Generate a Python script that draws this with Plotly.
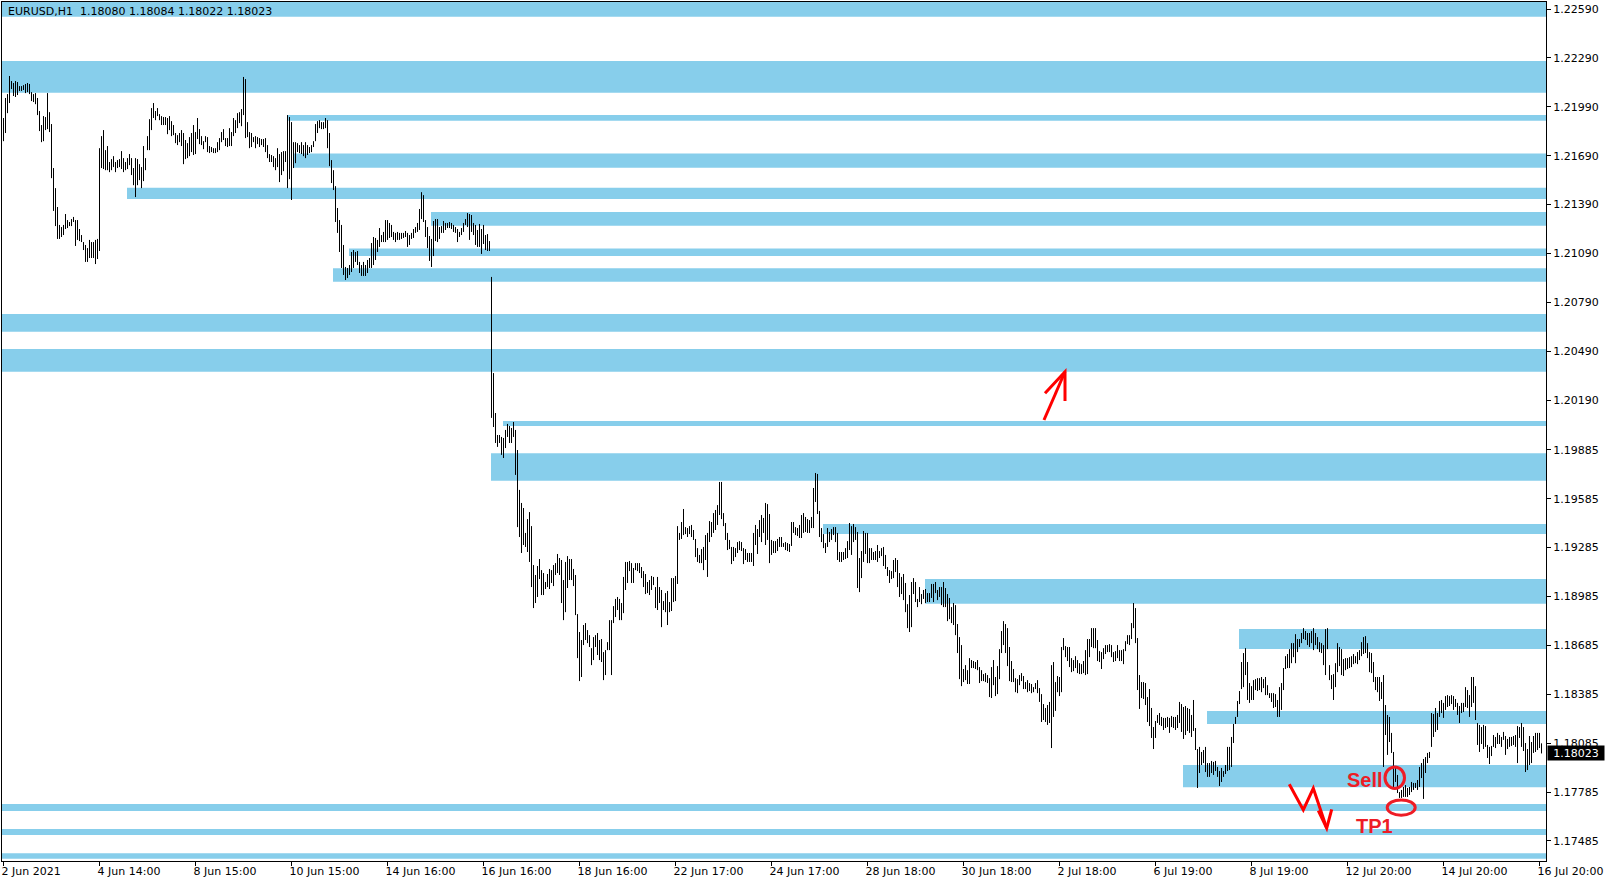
import plotly.graph_objects as go

# ---------------- data ----------------
symbol_header = "EURUSD,H1\u00a0\u00a01.18080 1.18084 1.18022 1.18023"
last_price = 1.18023

bar_high = [
    1.21921, 1.22044, 1.22068, 1.22179, 1.22148, 1.22136, 1.22148, 1.22142, 1.22117, 1.22117,
    1.22123, 1.22130, 1.22136, 1.22130, 1.22080, 1.22068, 1.22074, 1.22044, 1.21964, 1.21878,
    1.21933, 1.21927, 1.22074, 1.21957, 1.21884, 1.21614, 1.21491, 1.21375, 1.21265, 1.21252,
    1.21265, 1.21332, 1.21295, 1.21283, 1.21301, 1.21314, 1.21295, 1.21295, 1.21240, 1.21203,
    1.21160, 1.21142, 1.21123, 1.21173, 1.21160, 1.21160, 1.21173, 1.21179, 1.21736, 1.21810,
    1.21847, 1.21724, 1.21749, 1.21651, 1.21669, 1.21687, 1.21651, 1.21663, 1.21669, 1.21718,
    1.21675, 1.21651, 1.21675, 1.21700, 1.21675, 1.21614, 1.21675, 1.21669, 1.21638, 1.21620,
    1.21749, 1.21675, 1.21810, 1.21914, 1.21982, 1.22013, 1.21964, 1.21982, 1.21945, 1.21933,
    1.21927, 1.21927, 1.21921, 1.21933, 1.21902, 1.21878, 1.21829, 1.21816, 1.21829, 1.21847,
    1.21829, 1.21786, 1.21767, 1.21804, 1.21829, 1.21878, 1.21835, 1.21921, 1.21853, 1.21810,
    1.21779, 1.21810, 1.21804, 1.21749, 1.21743, 1.21736, 1.21736, 1.21773, 1.21798, 1.21835,
    1.21853, 1.21798, 1.21798, 1.21859, 1.21835, 1.21921, 1.21908, 1.21951, 1.21957, 1.21976,
    1.22173, 1.22160, 1.21896, 1.21835, 1.21829, 1.21804, 1.21810, 1.21804, 1.21798, 1.21792,
    1.21792, 1.21798, 1.21755, 1.21700, 1.21694, 1.21687, 1.21675, 1.21736, 1.21700, 1.21712,
    1.21718, 1.21718, 1.21939, 1.21927, 1.21896, 1.21773, 1.21773, 1.21767, 1.21755, 1.21773,
    1.21755, 1.21773, 1.21755, 1.21743, 1.21755, 1.21779, 1.21884, 1.21902, 1.21908, 1.21896,
    1.21896, 1.21921, 1.21908, 1.21829, 1.21663, 1.21601, 1.21503, 1.21369, 1.21295, 1.21265,
    1.21142, 1.21007, 1.21001, 1.21019, 1.21099, 1.21111, 1.21099, 1.21105, 1.21038, 1.21019,
    1.21038, 1.21019, 1.21050, 1.21062, 1.21154, 1.21191, 1.21185, 1.21173, 1.21246, 1.21203,
    1.21222, 1.21295, 1.21295, 1.21277, 1.21265, 1.21222, 1.21216, 1.21222, 1.21216, 1.21216,
    1.21216, 1.21228, 1.21216, 1.21203, 1.21216, 1.21240, 1.21252, 1.21277, 1.21363, 1.21466,
    1.21448, 1.21295, 1.21252, 1.21197, 1.21179, 1.21289, 1.21301, 1.21301, 1.21252, 1.21258,
    1.21289, 1.21277, 1.21277, 1.21283, 1.21277, 1.21265, 1.21252, 1.21240, 1.21222, 1.21246,
    1.21277, 1.21301, 1.21338, 1.21332, 1.21326, 1.21277, 1.21265, 1.21234, 1.21271, 1.21240,
    1.21265, 1.21203, 1.21209, 1.21166, 1.20946, 1.20356, 1.20111, 1.19976, 1.19976, 1.19964,
    1.19958, 1.20007, 1.20044, 1.20031, 1.20019, 1.20056, 1.20007, 1.19884, 1.19639, 1.19559,
    1.19528, 1.19375, 1.19460, 1.19503, 1.19417, 1.19178, 1.19117, 1.19172, 1.19215, 1.19147,
    1.19129, 1.19074, 1.19123, 1.19154, 1.19147, 1.19178, 1.19190, 1.19246, 1.19221, 1.19209,
    1.19086, 1.19197, 1.19233, 1.19215, 1.19215, 1.19154, 1.19117, 1.18877, 1.18767, 1.18718,
    1.18810, 1.18822, 1.18779, 1.18748, 1.18668, 1.18736, 1.18748, 1.18761, 1.18718, 1.18724,
    1.18644, 1.18656, 1.18705, 1.18840, 1.18840, 1.18926, 1.18970, 1.18982, 1.18970, 1.18945,
    1.19105, 1.19197, 1.19197, 1.19203, 1.19190, 1.19160, 1.19190, 1.19190, 1.19190, 1.19166,
    1.19141, 1.19123, 1.19074, 1.19086, 1.19111, 1.19105, 1.19043, 1.19105, 1.19043, 1.19025,
    1.18957, 1.19006, 1.19019, 1.18951, 1.19098, 1.19098, 1.19111, 1.19417, 1.19375, 1.19442,
    1.19522, 1.19411, 1.19405, 1.19417, 1.19424, 1.19393, 1.19338, 1.19282, 1.19240, 1.19276,
    1.19289, 1.19362, 1.19375, 1.19448, 1.19442, 1.19497, 1.19516, 1.19546, 1.19688, 1.19688,
    1.19497, 1.19436, 1.19375, 1.19332, 1.19289, 1.19289, 1.19282, 1.19319, 1.19325, 1.19319,
    1.19282, 1.19276, 1.19252, 1.19252, 1.19252, 1.19375, 1.19424, 1.19399, 1.19454, 1.19485,
    1.19467, 1.19559, 1.19552, 1.19491, 1.19332, 1.19325, 1.19325, 1.19338, 1.19350, 1.19350,
    1.19313, 1.19319, 1.19313, 1.19307, 1.19442, 1.19442, 1.19411, 1.19405, 1.19424, 1.19485,
    1.19497, 1.19473, 1.19460, 1.19454, 1.19473, 1.19651, 1.19743, 1.19737, 1.19510, 1.19405,
    1.19368, 1.19313, 1.19405, 1.19381, 1.19399, 1.19411, 1.19411, 1.19375, 1.19258, 1.19258,
    1.19258, 1.19282, 1.19325, 1.19436, 1.19417, 1.19430, 1.19411, 1.19381, 1.19221, 1.19264,
    1.19387, 1.19375, 1.19375, 1.19282, 1.19282, 1.19258, 1.19264, 1.19301, 1.19264, 1.19282,
    1.19289, 1.19240, 1.19166, 1.19147, 1.19141, 1.19209, 1.19221, 1.19209, 1.19129, 1.19105,
    1.19123, 1.19068, 1.18938, 1.18994, 1.19074, 1.19098, 1.19074, 1.18970, 1.19043, 1.19000,
    1.19025, 1.19031, 1.19006, 1.19006, 1.19062, 1.19062, 1.19074, 1.19025, 1.19043, 1.19043,
    1.19074, 1.19037, 1.19000, 1.18976, 1.18920, 1.18945, 1.18932, 1.18816, 1.18736, 1.18687,
    1.18540, 1.18564, 1.18533, 1.18607, 1.18595, 1.18589, 1.18583, 1.18595, 1.18552, 1.18533,
    1.18509, 1.18515, 1.18503, 1.18484, 1.18552, 1.18595, 1.18491, 1.18558, 1.18662, 1.18773,
    1.18834, 1.18816, 1.18791, 1.18675, 1.18589, 1.18540, 1.18484, 1.18478, 1.18503, 1.18515,
    1.18497, 1.18460, 1.18472, 1.18454, 1.18448, 1.18429, 1.18454, 1.18472, 1.18423, 1.18386,
    1.18325, 1.18301, 1.18319, 1.18338, 1.18564, 1.18583, 1.18460, 1.18497, 1.18491, 1.18675,
    1.18730, 1.18681, 1.18675, 1.18675, 1.18607, 1.18595, 1.18619, 1.18595, 1.18576, 1.18570,
    1.18589, 1.18656, 1.18724, 1.18724, 1.18791, 1.18791, 1.18791, 1.18718, 1.18650, 1.18644,
    1.18668, 1.18687, 1.18687, 1.18693, 1.18687, 1.18644, 1.18650, 1.18687, 1.18656, 1.18656,
    1.18662, 1.18711, 1.18748, 1.18748, 1.18822, 1.18945, 1.18914, 1.18730, 1.18503, 1.18460,
    1.18460, 1.18454, 1.18368, 1.18417, 1.18301, 1.18184, 1.18221, 1.18258, 1.18270, 1.18246,
    1.18240, 1.18240, 1.18246, 1.18240, 1.18252, 1.18246, 1.18246, 1.18258, 1.18338, 1.18325,
    1.18307, 1.18313, 1.18301, 1.18295, 1.18258, 1.18350, 1.18178, 1.18049, 1.18062, 1.18031,
    1.18043, 1.18062, 1.17963, 1.17963, 1.17976, 1.17970, 1.17976, 1.17939, 1.17914, 1.17933,
    1.17914, 1.17951, 1.18062, 1.18062, 1.18123, 1.18203, 1.18246, 1.18344, 1.18405, 1.18583,
    1.18638, 1.18668, 1.18583, 1.18454, 1.18435, 1.18472, 1.18478, 1.18484, 1.18484, 1.18491,
    1.18478, 1.18491, 1.18441, 1.18392, 1.18392, 1.18392, 1.18386, 1.18350, 1.18429, 1.18454,
    1.18546, 1.18619, 1.18632, 1.18662, 1.18699, 1.18699, 1.18754, 1.18724, 1.18724, 1.18761,
    1.18791, 1.18773, 1.18761, 1.18761, 1.18773, 1.18791, 1.18761, 1.18736, 1.18705, 1.18699,
    1.18687, 1.18785, 1.18791, 1.18564, 1.18503, 1.18509, 1.18576, 1.18699, 1.18675, 1.18662,
    1.18601, 1.18607, 1.18607, 1.18613, 1.18619, 1.18632, 1.18619, 1.18644, 1.18656, 1.18705,
    1.18736, 1.18742, 1.18699, 1.18644, 1.18638, 1.18583, 1.18491, 1.18491, 1.18491, 1.18460,
    1.18503, 1.18319, 1.18258, 1.18246, 1.18148, 1.18031, 1.17939, 1.17890, 1.17785, 1.17798,
    1.17816, 1.17828, 1.17810, 1.17816, 1.17847, 1.17841, 1.17841, 1.17859, 1.17939, 1.17963,
    1.17988, 1.18000, 1.18025, 1.18031, 1.18270, 1.18264, 1.18301, 1.18270, 1.18344, 1.18350,
    1.18332, 1.18374, 1.18380, 1.18374, 1.18380, 1.18374, 1.18356, 1.18332, 1.18313, 1.18332,
    1.18332, 1.18429, 1.18411, 1.18380, 1.18491, 1.18491, 1.18435, 1.18209, 1.18197, 1.18184,
    1.18197, 1.18190, 1.18074, 1.18062, 1.18068, 1.18135, 1.18123, 1.18148, 1.18135, 1.18123,
    1.18154, 1.18129, 1.18111, 1.18123, 1.18123, 1.18129, 1.18135, 1.18190, 1.18184, 1.18209,
    1.18184, 1.18086, 1.18049, 1.18129, 1.18092, 1.18129, 1.18148, 1.18148, 1.18148, 1.18084,
]

bar_low = [
    1.21779, 1.21829, 1.21951, 1.22013, 1.22099, 1.22056, 1.22050, 1.22062, 1.22087, 1.22087,
    1.22093, 1.22074, 1.22080, 1.22068, 1.22025, 1.22019, 1.22006, 1.21939, 1.21841, 1.21773,
    1.21779, 1.21847, 1.21853, 1.21835, 1.21552, 1.21351, 1.21258, 1.21179, 1.21179, 1.21191,
    1.21203, 1.21240, 1.21246, 1.21258, 1.21258, 1.21283, 1.21136, 1.21173, 1.21166, 1.21160,
    1.21111, 1.21038, 1.21038, 1.21062, 1.21062, 1.21062, 1.21025, 1.21056, 1.21105, 1.21614,
    1.21608, 1.21601, 1.21601, 1.21589, 1.21601, 1.21620, 1.21589, 1.21614, 1.21620, 1.21608,
    1.21589, 1.21601, 1.21608, 1.21632, 1.21571, 1.21509, 1.21436, 1.21509, 1.21540, 1.21491,
    1.21534, 1.21601, 1.21724, 1.21724, 1.21847, 1.21921, 1.21908, 1.21933, 1.21908, 1.21878,
    1.21878, 1.21878, 1.21822, 1.21847, 1.21810, 1.21816, 1.21767, 1.21755, 1.21773, 1.21749,
    1.21638, 1.21669, 1.21675, 1.21687, 1.21712, 1.21694, 1.21700, 1.21792, 1.21761, 1.21755,
    1.21730, 1.21773, 1.21712, 1.21706, 1.21712, 1.21706, 1.21706, 1.21712, 1.21724, 1.21773,
    1.21786, 1.21749, 1.21743, 1.21749, 1.21749, 1.21810, 1.21829, 1.21859, 1.21890, 1.21871,
    1.21939, 1.21798, 1.21804, 1.21736, 1.21743, 1.21773, 1.21736, 1.21761, 1.21743, 1.21755,
    1.21743, 1.21712, 1.21675, 1.21651, 1.21651, 1.21620, 1.21601, 1.21620, 1.21528, 1.21571,
    1.21595, 1.21651, 1.21491, 1.21546, 1.21418, 1.21614, 1.21644, 1.21712, 1.21706, 1.21700,
    1.21687, 1.21675, 1.21694, 1.21706, 1.21712, 1.21743, 1.21779, 1.21829, 1.21859, 1.21853,
    1.21853, 1.21859, 1.21736, 1.21626, 1.21522, 1.21479, 1.21283, 1.21216, 1.21099, 1.21001,
    1.20958, 1.20927, 1.20939, 1.20958, 1.20976, 1.21001, 1.21038, 1.21019, 1.20970, 1.20952,
    1.20952, 1.20952, 1.20970, 1.21001, 1.21001, 1.21019, 1.21050, 1.21099, 1.21130, 1.21160,
    1.21160, 1.21160, 1.21173, 1.21185, 1.21191, 1.21173, 1.21160, 1.21173, 1.21173, 1.21179,
    1.21185, 1.21191, 1.21130, 1.21142, 1.21179, 1.21185, 1.21216, 1.21222, 1.21234, 1.21301,
    1.21283, 1.21191, 1.21123, 1.21044, 1.21007, 1.21074, 1.21166, 1.21160, 1.21179, 1.21216,
    1.21216, 1.21234, 1.21246, 1.21246, 1.21240, 1.21222, 1.21216, 1.21160, 1.21191, 1.21203,
    1.21222, 1.21265, 1.21252, 1.21173, 1.21222, 1.21203, 1.21142, 1.21130, 1.21130, 1.21087,
    1.21148, 1.21111, 1.21105, 1.21105, 1.20081, 1.20025, 1.19927, 1.19903, 1.19927, 1.19854,
    1.19835, 1.19896, 1.19964, 1.19927, 1.19927, 1.19964, 1.19731, 1.19411, 1.19350, 1.19252,
    1.19301, 1.19289, 1.19258, 1.19197, 1.19043, 1.18914, 1.18945, 1.18982, 1.19092, 1.18994,
    1.18994, 1.19031, 1.19043, 1.19031, 1.19068, 1.19049, 1.19117, 1.19129, 1.19117, 1.18945,
    1.18840, 1.18889, 1.19037, 1.19086, 1.19086, 1.19049, 1.18871, 1.18607, 1.18466, 1.18491,
    1.18687, 1.18718, 1.18699, 1.18675, 1.18564, 1.18595, 1.18675, 1.18626, 1.18595, 1.18583,
    1.18472, 1.18503, 1.18656, 1.18656, 1.18503, 1.18822, 1.18859, 1.18902, 1.18840, 1.18840,
    1.18883, 1.19025, 1.19068, 1.19141, 1.19068, 1.19068, 1.19147, 1.19141, 1.19129, 1.19098,
    1.19043, 1.19000, 1.19006, 1.18994, 1.19025, 1.19055, 1.18914, 1.18902, 1.18945, 1.18797,
    1.18902, 1.18889, 1.18810, 1.18889, 1.18896, 1.18951, 1.18957, 1.19062, 1.19332, 1.19338,
    1.19362, 1.19368, 1.19350, 1.19368, 1.19350, 1.19332, 1.19227, 1.19197, 1.19190, 1.19190,
    1.19147, 1.19209, 1.19105, 1.19319, 1.19350, 1.19375, 1.19393, 1.19424, 1.19485, 1.19460,
    1.19417, 1.19332, 1.19270, 1.19276, 1.19184, 1.19203, 1.19227, 1.19252, 1.19270, 1.19264,
    1.19184, 1.19209, 1.19197, 1.19197, 1.19197, 1.19172, 1.19301, 1.19246, 1.19350, 1.19319,
    1.19375, 1.19301, 1.19332, 1.19190, 1.19240, 1.19252, 1.19252, 1.19264, 1.19289, 1.19289,
    1.19289, 1.19270, 1.19264, 1.19258, 1.19295, 1.19375, 1.19362, 1.19356, 1.19344, 1.19344,
    1.19375, 1.19381, 1.19375, 1.19375, 1.19405, 1.19405, 1.19565, 1.19491, 1.19350, 1.19319,
    1.19282, 1.19252, 1.19289, 1.19319, 1.19332, 1.19362, 1.19319, 1.19209, 1.19197, 1.19197,
    1.19209, 1.19215, 1.19221, 1.19270, 1.19240, 1.19319, 1.19332, 1.19037, 1.19012, 1.19098,
    1.19197, 1.19246, 1.19190, 1.19190, 1.19209, 1.19209, 1.19209, 1.19197, 1.19221, 1.19233,
    1.19172, 1.19154, 1.19111, 1.19068, 1.19092, 1.19098, 1.19135, 1.19043, 1.18982, 1.19000,
    1.18963, 1.18889, 1.18791, 1.18767, 1.18797, 1.19000, 1.18951, 1.18920, 1.18951, 1.18938,
    1.18970, 1.18945, 1.18951, 1.18951, 1.18976, 1.18951, 1.19006, 1.18963, 1.18982, 1.18932,
    1.18920, 1.18920, 1.18834, 1.18846, 1.18822, 1.18810, 1.18748, 1.18638, 1.18478, 1.18435,
    1.18460, 1.18472, 1.18448, 1.18448, 1.18546, 1.18546, 1.18540, 1.18533, 1.18454, 1.18466,
    1.18466, 1.18460, 1.18454, 1.18368, 1.18362, 1.18441, 1.18374, 1.18386, 1.18478, 1.18638,
    1.18687, 1.18638, 1.18558, 1.18466, 1.18460, 1.18460, 1.18398, 1.18392, 1.18441, 1.18466,
    1.18417, 1.18417, 1.18398, 1.18405, 1.18392, 1.18398, 1.18417, 1.18392, 1.18338, 1.18215,
    1.18227, 1.18215, 1.18197, 1.18209, 1.18055, 1.18246, 1.18283, 1.18398, 1.18374, 1.18398,
    1.18656, 1.18613, 1.18589, 1.18552, 1.18521, 1.18527, 1.18546, 1.18515, 1.18509, 1.18509,
    1.18515, 1.18503, 1.18509, 1.18613, 1.18675, 1.18668, 1.18668, 1.18589, 1.18583, 1.18540,
    1.18601, 1.18632, 1.18644, 1.18644, 1.18613, 1.18583, 1.18589, 1.18607, 1.18589, 1.18589,
    1.18570, 1.18650, 1.18693, 1.18687, 1.18724, 1.18791, 1.18699, 1.18411, 1.18295, 1.18362,
    1.18356, 1.18319, 1.18215, 1.18190, 1.18117, 1.18049, 1.18117, 1.18209, 1.18197, 1.18190,
    1.18166, 1.18178, 1.18184, 1.18148, 1.18184, 1.18178, 1.18166, 1.18178, 1.18209, 1.18154,
    1.18111, 1.18135, 1.18160, 1.18148, 1.18123, 1.18160, 1.18043, 1.17810, 1.17902, 1.17951,
    1.17963, 1.17908, 1.17878, 1.17878, 1.17902, 1.17890, 1.17914, 1.17878, 1.17822, 1.17847,
    1.17878, 1.17896, 1.17914, 1.17920, 1.17939, 1.18086, 1.18203, 1.18246, 1.18325, 1.18417,
    1.18429, 1.18503, 1.18350, 1.18332, 1.18350, 1.18350, 1.18411, 1.18405, 1.18411, 1.18398,
    1.18423, 1.18380, 1.18380, 1.18362, 1.18338, 1.18301, 1.18307, 1.18246, 1.18246, 1.18289,
    1.18411, 1.18540, 1.18546, 1.18546, 1.18576, 1.18613, 1.18576, 1.18644, 1.18675, 1.18699,
    1.18724, 1.18718, 1.18687, 1.18675, 1.18699, 1.18656, 1.18687, 1.18662, 1.18644, 1.18638,
    1.18564, 1.18503, 1.18662, 1.18472, 1.18417, 1.18350, 1.18429, 1.18521, 1.18558, 1.18503,
    1.18497, 1.18533, 1.18540, 1.18546, 1.18552, 1.18570, 1.18576, 1.18570, 1.18595, 1.18619,
    1.18632, 1.18638, 1.18607, 1.18521, 1.18515, 1.18460, 1.18411, 1.18398, 1.18344, 1.18356,
    1.17939, 1.18135, 1.18013, 1.18092, 1.18025, 1.17816, 1.17847, 1.17779, 1.17749, 1.17749,
    1.17755, 1.17755, 1.17755, 1.17767, 1.17785, 1.17798, 1.17810, 1.17798, 1.17816, 1.17871,
    1.17743, 1.17902, 1.17963, 1.17994, 1.18062, 1.18123, 1.18154, 1.18166, 1.18246, 1.18270,
    1.18240, 1.18289, 1.18307, 1.18313, 1.18325, 1.18289, 1.18307, 1.18258, 1.18209, 1.18270,
    1.18276, 1.18307, 1.18301, 1.18246, 1.18307, 1.18332, 1.18227, 1.18074, 1.18031, 1.18080,
    1.18049, 1.18062, 1.17994, 1.17957, 1.18006, 1.18062, 1.18055, 1.18080, 1.18080, 1.18062,
    1.18105, 1.18013, 1.18049, 1.18062, 1.18068, 1.18074, 1.18062, 1.17963, 1.18117, 1.18062,
    1.18037, 1.17908, 1.17920, 1.17951, 1.17963, 1.18025, 1.18031, 1.18043, 1.18055, 1.18022,
]

time_tick_bars = [0, 48, 96, 144, 192, 240, 288, 336, 384, 432, 480, 528, 576, 624, 672, 720, 768]
time_tick_labels = ["2 Jun 2021", "4 Jun 14:00", "8 Jun 15:00", "10 Jun 15:00", "14 Jun 16:00",
                    "16 Jun 16:00", "18 Jun 16:00", "22 Jun 17:00", "24 Jun 17:00", "28 Jun 18:00",
                    "30 Jun 18:00", "2 Jul 18:00", "6 Jul 19:00", "8 Jul 19:00", "12 Jul 20:00",
                    "14 Jul 20:00", "16 Jul 20:00"]

price_ticks = [1.22590, 1.22290, 1.21990, 1.21690, 1.21390, 1.21090, 1.20790, 1.20490, 1.20190,
               1.19885, 1.19585, 1.19285, 1.18985, 1.18685, 1.18385, 1.18085, 1.17785, 1.17485]

# supply / demand zones: first bar (None = whole history), upper and lower price
zone_start_bar = [None, None, 142, 145, 62, 214, 173, 165, None, None,
                  250, 244, 410, 461, 618, 602, 590, None, None, None]
zone_top = [1.22640, 1.22271, 1.21939, 1.21704, 1.21493, 1.21344, 1.21121, 1.20999, 1.20718, 1.20504,
            1.20062, 1.19864, 1.19430, 1.19092, 1.18786, 1.18282, 1.17951, 1.17712, 1.17558, 1.17409]
zone_bottom = [1.22543, 1.22076, 1.21904, 1.21616, 1.21424, 1.21260, 1.21074, 1.20916, 1.20610, 1.20364,
               1.20031, 1.19695, 1.19368, 1.18941, 1.18663, 1.18203, 1.17814, 1.17669, 1.17521, 1.17376]

# ---------------- figure ----------------
X_RANGE = [-0.75, 771.25]
Y_RANGE = [1.17362, 1.22633]
ZONE_COLOR = "#87CEEB"
RED = "#EE1C25"
FONT = "DejaVu Sans"

fig = go.Figure()

shapes = []
for s, t, b in zip(zone_start_bar, zone_top, zone_bottom):
    x0 = X_RANGE[0] - 5 if s is None else s - 0.25
    shapes.append(dict(type="rect", xref="x", yref="y", x0=x0, x1=X_RANGE[1] + 5, y0=b, y1=t,
                       fillcolor=ZONE_COLOR, line=dict(width=0), layer="below"))

# bars: one vertical high-low line per hour
xs, ys = [], []
for i, (h, l) in enumerate(zip(bar_high, bar_low)):
    xs += [i, i, None]
    ys += [l, h, None]
fig.add_trace(go.Scatter(x=xs, y=ys, mode="lines", line=dict(color="black", width=1),
                         hoverinfo="skip", showlegend=False))

# hand drawn marks (bar index / price coordinates)
shapes += [
    dict(type="path", xref="x", yref="y", path="M 520.25,1.20068 L 530.75,1.20364",
         line=dict(color="#FF0000", width=3)),
    dict(type="path", xref="x", yref="y", path="M 520.75,1.20232 L 530.75,1.20364 L 530.75,1.20184",
         line=dict(color="#FF0000", width=3)),
    dict(type="path", xref="x", yref="y",
         path="M 642.9,1.17833 L 649.9,1.17675 L 654.9,1.17808 L 661.6,1.17563",
         line=dict(color="#FF0000", width=3)),
    dict(type="path", xref="x", yref="y", path="M 657.4,1.17671 L 661.6,1.17563 L 664.1,1.17679",
         line=dict(color="#FF0000", width=3)),
    dict(type="circle", xref="x", yref="y", x0=690.75, x1=700.5, y0=1.17807, y1=1.17939,
         line=dict(color=RED, width=3)),
    dict(type="circle", xref="x", yref="y", x0=691.85, x1=705.85, y0=1.17643, y1=1.17737,
         line=dict(color=RED, width=3)),
]

label_font = dict(family="Liberation Sans, Arial, sans-serif", size=20, color=RED, weight="bold")
annotations = [
    dict(x=680.75, y=1.17860, xref="x", yref="y", text="Sell", showarrow=False, font=label_font,
         xanchor="center", yanchor="middle"),
    dict(x=685.6, y=1.17578, xref="x", yref="y", text="TP1", showarrow=False, font=label_font,
         xanchor="center", yanchor="middle"),
    dict(x=0, y=1, xref="paper", yref="paper", text=symbol_header, showarrow=False,
         xanchor="left", yanchor="top", xshift=4, yshift=-1,
         font=dict(family=FONT, size=11, color="black")),
    dict(x=1, y=last_price, xref="paper", yref="y", text=f"{last_price:.5f}", showarrow=False,
         xanchor="left", yanchor="middle", xshift=1, bgcolor="black", borderpad=1, width=54, height=12,
         font=dict(family=FONT, size=11, color="white")),
]

fig.update_layout(
    width=1610, height=884,
    margin=dict(l=2, r=64, t=2, b=23, pad=0),
    paper_bgcolor="white", plot_bgcolor="white",
    showlegend=False,
    shapes=shapes,
    annotations=annotations,
    xaxis=dict(range=X_RANGE, tickmode="array", tickvals=time_tick_bars, ticktext=time_tick_labels,
               ticks="outside", ticklen=4, tickwidth=1, tickcolor="black",
               showline=True, linecolor="black", linewidth=1, mirror=True,
               showgrid=False, zeroline=False, ticklabelposition="outside right",
               ticklabelshift=-3,
               tickfont=dict(family=FONT, size=11, color="black"), fixedrange=True),
    yaxis=dict(side="right", range=Y_RANGE, tickmode="array", tickvals=price_ticks,
               ticktext=[f"{v:.5f}" for v in price_ticks],
               ticks="outside", ticklen=4, tickwidth=1, tickcolor="black",
               showline=True, linecolor="black", linewidth=1, mirror=True,
               showgrid=False, zeroline=False,
               tickfont=dict(family=FONT, size=11, color="black"), fixedrange=True),
)

fig.write_html("out.html", include_plotlyjs=True, config={"displayModeBar": False},
               post_script="document.body.style.margin='0';document.body.style.overflow='hidden';")
